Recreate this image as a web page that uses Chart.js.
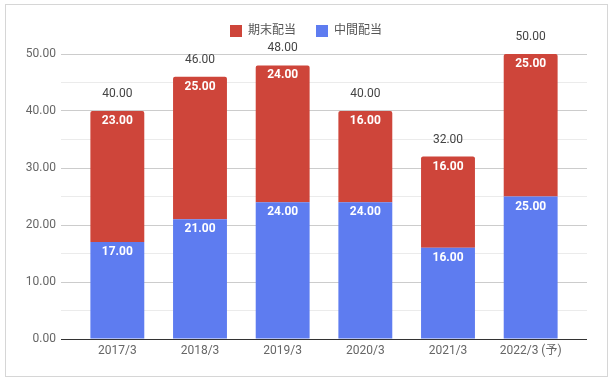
<!DOCTYPE html>
<html><head><meta charset="utf-8">
<script src="https://cdn.jsdelivr.net/npm/chart.js@4.4.1/dist/chart.umd.min.js"></script>
<style>
html,body{margin:0;padding:0;background:#fff;}
#wrap{position:relative;width:612px;height:380px;}
#frame{position:absolute;left:5px;top:4px;width:603px;height:373px;border:1px solid #d6d6d6;box-sizing:border-box;pointer-events:none;}
canvas{position:absolute;left:0;top:0;}
</style></head><body>
<div id="wrap"><canvas id="c" width="612" height="380"></canvas><div id="frame"></div></div>
<script>
const categories = ['2017/3','2018/3','2019/3','2020/3','2021/3','2022/3 (予)'];
const interimDividend = [17, 21, 24, 24, 16, 25];   // 中間配当
const yearEndDividend = [23, 25, 24, 16, 16, 25];   // 期末配当
const seriesNames = ['中間配当', '期末配当'];
const yTickLabels = ['0.00','10.00','20.00','30.00','40.00','50.00'];
const yMax = 50;

const FONT = "Roboto, 'Noto Sans CJK JP', sans-serif";
const totals = categories.map((_, i) => interimDividend[i] + yearEndDividend[i]);

const gridColor = ctx => {
  const v = ctx.tick ? ctx.tick.value : null;
  if (v === 0) return '#333333';
  return (v % 10 === 0) ? '#cccccc' : '#ebebeb';
};

const legendSpacer = {
  id: 'legendSpacer',
  beforeInit(chart) {
    const orig = chart.legend.fit;
    chart.legend.fit = function () { orig.bind(chart.legend)(); this.height += 7; };
  }
};

const valueLabels = {
  id: 'valueLabels',
  afterDatasetsDraw(chart) {
    const ctx = chart.ctx;
    ctx.save();
    ctx.textAlign = 'center';
    ctx.textBaseline = 'middle';
    chart.data.datasets.forEach((ds, di) => {
      const meta = chart.getDatasetMeta(di);
      meta.data.forEach((bar, i) => {
        ctx.font = 'bold 12px ' + FONT;
        ctx.fillStyle = '#ffffff';
        ctx.fillText(ds.data[i].toFixed(2), bar.x, bar.y + 10);
      });
    });
    const topMeta = chart.getDatasetMeta(chart.data.datasets.length - 1);
    topMeta.data.forEach((bar, i) => {
      ctx.font = '12px ' + FONT;
      ctx.fillStyle = '#444444';
      ctx.fillText(totals[i].toFixed(2), bar.x, bar.y - 17);
    });
    ctx.restore();
  }
};

new Chart(document.getElementById('c'), {
  type: 'bar',
  data: {
    labels: categories,
    datasets: [
      { label: seriesNames[0], data: interimDividend, backgroundColor: '#5e7cf0',
        barPercentage: 0.652, categoryPercentage: 1, borderRadius: 0 },
      { label: seriesNames[1], data: yearEndDividend, backgroundColor: '#ce453a',
        barPercentage: 0.652, categoryPercentage: 1,
        borderRadius: {topLeft: 2, topRight: 2, bottomLeft: 0, bottomRight: 0}, borderSkipped: 'bottom' }
    ]
  },
  options: {
    responsive: false,
    animation: false,
    layout: { padding: { left: 0, right: 0, top: 5, bottom: 0 } },
    plugins: {
      legend: {
        position: 'top',
        reverse: true,
        labels: { boxWidth: 12, boxHeight: 12, padding: 20, color: '#555', font: { family: FONT, size: 12 } }
      },
      tooltip: { enabled: false }
    },
    scales: {
      x: {
        stacked: true,
        grid: { display: false, drawTicks: false },
        border: { display: false },
        ticks: { color: '#666', padding: 5, font: { family: FONT, size: 12 } },
        afterFit: s => { s.height = 41; }
      },
      y: {
        stacked: true, min: 0, max: yMax,
        border: { display: false },
        grid: { color: gridColor, tickLength: 15, drawTicks: true },
        ticks: { stepSize: 5, padding: 5, color: '#666', font: { family: FONT, size: 12 },
                 callback: v => (v % 10 === 0) ? yTickLabels[v / 10] : '' },
        afterFit: s => { s.width = 76; }
      },
      y2: {
        position: 'right', min: 0, max: yMax,
        border: { display: false },
        grid: { color: gridColor, tickLength: 15, drawTicks: true, drawOnChartArea: false },
        ticks: { stepSize: 5, callback: () => '' },
        afterFit: s => { s.width = 40; }
      }
    }
  },
  plugins: [legendSpacer, valueLabels]
});
</script>
</body></html>
